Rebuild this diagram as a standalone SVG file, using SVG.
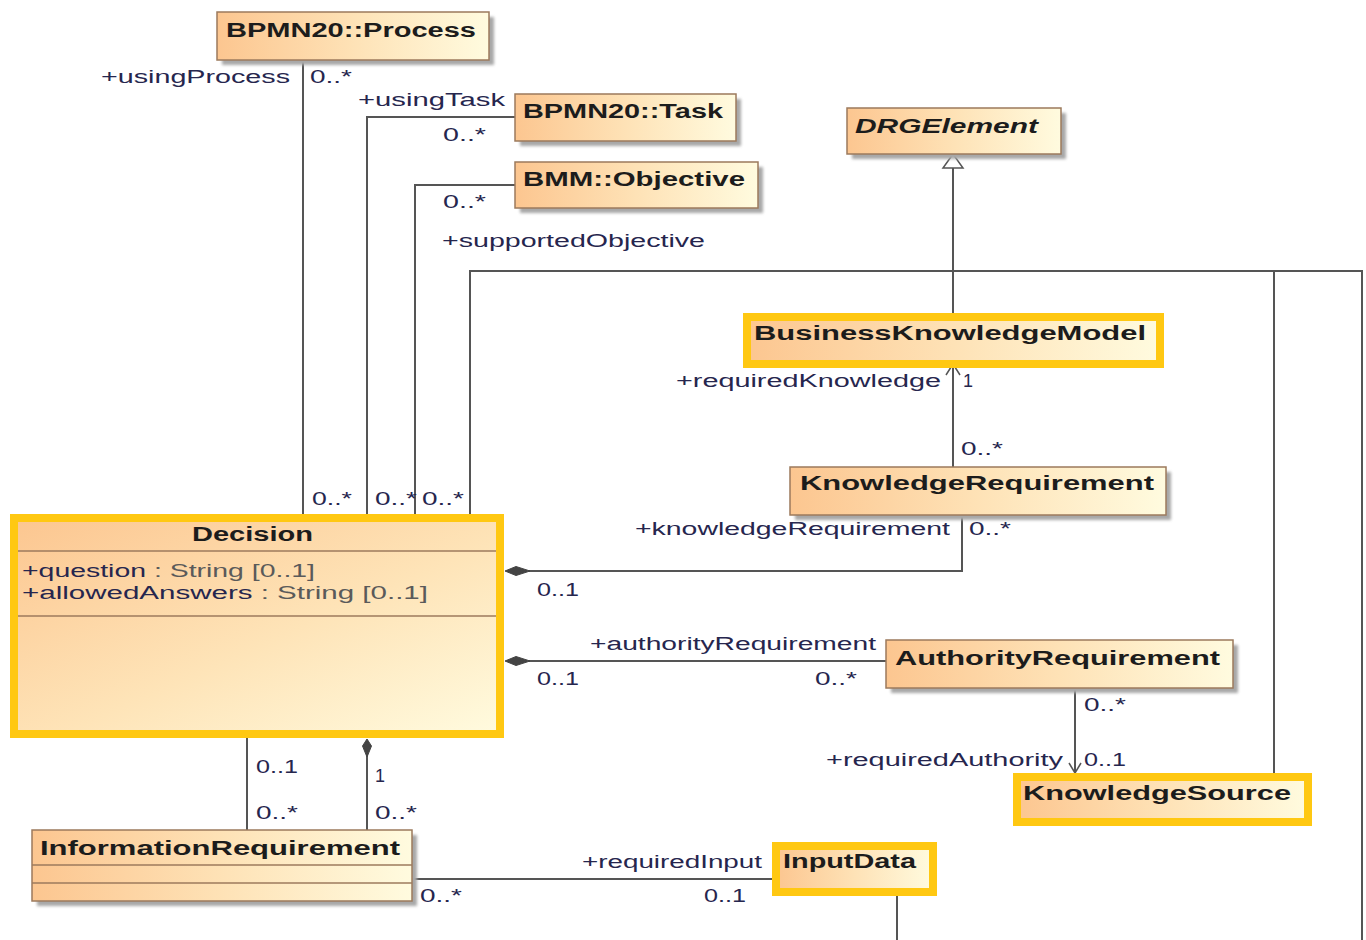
<svg xmlns="http://www.w3.org/2000/svg" width="1366" height="940" viewBox="0 0 1366 940">
<defs>
<linearGradient id="gH" x1="0" y1="0" x2="1" y2="0">
<stop offset="0" stop-color="#fcc690"/>
<stop offset="0.5" stop-color="#fee2b6"/>
<stop offset="1" stop-color="#fffbdf"/>
</linearGradient>
<linearGradient id="gD" x1="0" y1="0" x2="1" y2="1">
<stop offset="0" stop-color="#fcc690"/>
<stop offset="0.55" stop-color="#fee4b8"/>
<stop offset="1" stop-color="#fffbdf"/>
</linearGradient>
<filter id="blur" x="-10%" y="-10%" width="120%" height="130%"><feGaussianBlur stdDeviation="1.5"/></filter>
</defs>
<style>
.box{fill:url(#gH);stroke:#9c7a5c;stroke-width:1.5}
.sh{fill:#a8a8a8;filter:url(#blur)}
.hl{fill:url(#gH);stroke:#ffc812;stroke-width:8}
.name{font-family:"Liberation Sans",Arial,sans-serif;font-weight:bold;font-size:20px;fill:#1c1c1c}
.lbl{font-family:"Liberation Sans",Arial,sans-serif;font-size:18px;fill:#26264e}
.attr{font-family:"Liberation Sans",Arial,sans-serif;font-size:18px;fill:#26264e}
.gray{fill:#5a5a5a}
.sep{stroke:#9c7a5c;stroke-width:1.5}
.ln{fill:none;stroke:#555;stroke-width:2}
.dia{fill:#444;stroke:#444;stroke-width:1}
.open{fill:none;stroke:#555;stroke-width:1.5}
.tri{fill:#fff;stroke:#555;stroke-width:1.5}
</style>
<rect width="1366" height="940" fill="#fff"/>

<g id="connectors">
<path class="ln" d="M303 60 V514"/>
<path class="ln" d="M515 117 H367 V514"/>
<path class="ln" d="M515 185 H415 V514"/>
<path class="ln" d="M470 514 V271 H1362 V940"/>
<path class="ln" d="M1274 773 V271"/>
<path class="ln" d="M953 313 V166"/>
<polygon class="tri" points="953,154 943,168 963,168"/>
<path class="ln" d="M953 364 V467"/>
<path class="open" d="M946 375 L953 364 L960 375"/>
<path class="ln" d="M962 515 V571 H528"/>
<polygon class="dia" points="505,571 516,566.5 530,571 516,575.5"/>
<path class="ln" d="M886 661 H528"/>
<polygon class="dia" points="505,661 516,656.5 530,661 516,665.5"/>
<path class="ln" d="M1075 688 V772"/>
<path class="open" d="M1069 763 L1075 773 L1081 763"/>
<path class="ln" d="M247 738 V830"/>
<path class="ln" d="M367 752 V830"/>
<polygon class="dia" points="367,739 371.5,746 367,757 362.5,746"/>
<path class="ln" d="M412 879 H772"/>
<path class="ln" d="M897 895 V940"/>

<text class="lbl" x="101" y="83" textLength="189" lengthAdjust="spacingAndGlyphs">+usingProcess</text>
<text class="lbl" x="310" y="83" textLength="42" lengthAdjust="spacingAndGlyphs">0..*</text>
<text class="lbl" x="358" y="106" textLength="147" lengthAdjust="spacingAndGlyphs">+usingTask</text>
<text class="lbl" x="443" y="141" textLength="43" lengthAdjust="spacingAndGlyphs">0..*</text>
<text class="lbl" x="443" y="208" textLength="43" lengthAdjust="spacingAndGlyphs">0..*</text>
<text class="lbl" x="442" y="247" textLength="263" lengthAdjust="spacingAndGlyphs">+supportedObjective</text>
<text class="lbl" x="312" y="505" textLength="40" lengthAdjust="spacingAndGlyphs">0..*</text>
<text class="lbl" x="375" y="505" textLength="42" lengthAdjust="spacingAndGlyphs">0..*</text>
<text class="lbl" x="422" y="505" textLength="42" lengthAdjust="spacingAndGlyphs">0..*</text>
<text class="lbl" x="676" y="387" textLength="265" lengthAdjust="spacingAndGlyphs">+requiredKnowledge</text>
<text class="lbl" x="963" y="387">1</text>
<text class="lbl" x="961" y="455" textLength="42" lengthAdjust="spacingAndGlyphs">0..*</text>
<text class="lbl" x="635" y="535" textLength="315" lengthAdjust="spacingAndGlyphs">+knowledgeRequirement</text>
<text class="lbl" x="969" y="535" textLength="42" lengthAdjust="spacingAndGlyphs">0..*</text>
<text class="lbl" x="537" y="596" textLength="42" lengthAdjust="spacingAndGlyphs">0..1</text>
<text class="lbl" x="590" y="650" textLength="286" lengthAdjust="spacingAndGlyphs">+authorityRequirement</text>
<text class="lbl" x="537" y="685" textLength="42" lengthAdjust="spacingAndGlyphs">0..1</text>
<text class="lbl" x="815" y="685" textLength="42" lengthAdjust="spacingAndGlyphs">0..*</text>
<text class="lbl" x="1084" y="711" textLength="42" lengthAdjust="spacingAndGlyphs">0..*</text>
<text class="lbl" x="826" y="766" textLength="237" lengthAdjust="spacingAndGlyphs">+requiredAuthority</text>
<text class="lbl" x="1084" y="766" textLength="42" lengthAdjust="spacingAndGlyphs">0..1</text>
<text class="lbl" x="256" y="773" textLength="42" lengthAdjust="spacingAndGlyphs">0..1</text>
<text class="lbl" x="375" y="782">1</text>
<text class="lbl" x="256" y="819" textLength="42" lengthAdjust="spacingAndGlyphs">0..*</text>
<text class="lbl" x="375" y="819" textLength="42" lengthAdjust="spacingAndGlyphs">0..*</text>
<text class="lbl" x="582" y="868" textLength="180" lengthAdjust="spacingAndGlyphs">+requiredInput</text>
<text class="lbl" x="420" y="902" textLength="42" lengthAdjust="spacingAndGlyphs">0..*</text>
<text class="lbl" x="704" y="902" textLength="42" lengthAdjust="spacingAndGlyphs">0..1</text>
</g>

<g id="process">
<rect class="sh" x="222" y="17" width="272" height="48"/>
<rect class="box" x="217" y="12" width="272" height="48"/>
<text class="name" x="226" y="37" textLength="250" lengthAdjust="spacingAndGlyphs">BPMN20::Process</text>
</g>
<g id="task">
<rect class="sh" x="520" y="99" width="221" height="47"/>
<rect class="box" x="515" y="94" width="221" height="47"/>
<text class="name" x="523" y="118" textLength="200" lengthAdjust="spacingAndGlyphs">BPMN20::Task</text>
</g>
<g id="objective">
<rect class="sh" x="520" y="167" width="243" height="46"/>
<rect class="box" x="515" y="162" width="243" height="46"/>
<text class="name" x="523" y="186" textLength="222" lengthAdjust="spacingAndGlyphs">BMM::Objective</text>
</g>
<g id="drgelement">
<rect class="sh" x="852" y="113" width="214" height="46"/>
<rect class="box" x="847" y="108" width="214" height="46"/>
<text class="name" x="855" y="133" font-style="italic" textLength="183" lengthAdjust="spacingAndGlyphs">DRGElement</text>
</g>
<g id="bkm">
<rect class="hl" x="747" y="317" width="413" height="47"/>
<text class="name" x="754" y="340" textLength="392" lengthAdjust="spacingAndGlyphs">BusinessKnowledgeModel</text>
</g>
<g id="knowledgeRequirement">
<rect class="sh" x="795" y="472" width="376" height="48"/>
<rect class="box" x="790" y="467" width="376" height="48"/>
<text class="name" x="800" y="490" textLength="354" lengthAdjust="spacingAndGlyphs">KnowledgeRequirement</text>
</g>
<g id="decision">
<rect x="14" y="518" width="486" height="216" fill="url(#gD)" stroke="#ffc812" stroke-width="8"/>
<line class="sep" x1="18" y1="551" x2="496" y2="551"/>
<line class="sep" x1="18" y1="616" x2="496" y2="616"/>
<text class="name" x="192" y="541" textLength="121" lengthAdjust="spacingAndGlyphs">Decision</text>
<text class="attr" x="22" y="577" textLength="293" lengthAdjust="spacingAndGlyphs">+question<tspan class="gray"> : String [0..1]</tspan></text>
<text class="attr" x="22" y="599" textLength="406" lengthAdjust="spacingAndGlyphs">+allowedAnswers<tspan class="gray"> : String [0..1]</tspan></text>
</g>
<g id="authorityRequirement">
<rect class="sh" x="891" y="645" width="347" height="48"/>
<rect class="box" x="886" y="640" width="347" height="48"/>
<text class="name" x="895" y="665" textLength="325" lengthAdjust="spacingAndGlyphs">AuthorityRequirement</text>
</g>
<g id="knowledgeSource">
<rect class="hl" x="1017" y="777" width="291" height="45"/>
<text class="name" x="1023" y="800" textLength="268" lengthAdjust="spacingAndGlyphs">KnowledgeSource</text>
</g>
<g id="informationRequirement">
<rect class="sh" x="37" y="835" width="380" height="71"/>
<rect class="box" x="32" y="830" width="380" height="71"/>
<line class="sep" x1="32" y1="865" x2="412" y2="865"/>
<line class="sep" x1="32" y1="883" x2="412" y2="883"/>
<text class="name" x="40" y="855" textLength="360" lengthAdjust="spacingAndGlyphs">InformationRequirement</text>
</g>
<g id="inputData">
<rect class="hl" x="776" y="846" width="157" height="46"/>
<text class="name" x="783" y="868" textLength="133" lengthAdjust="spacingAndGlyphs">InputData</text>
</g>
</svg>
